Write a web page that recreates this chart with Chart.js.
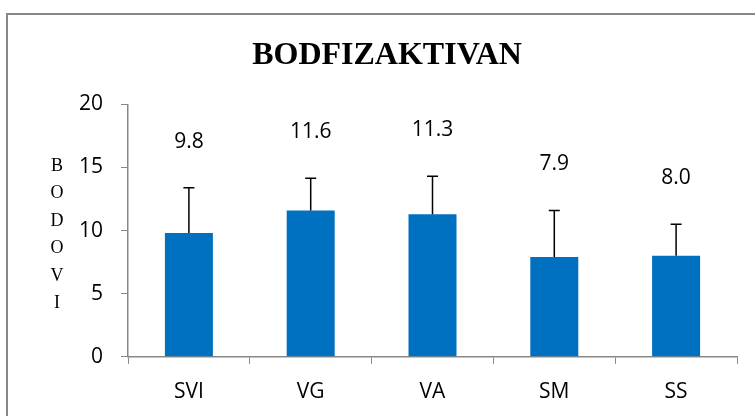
<!DOCTYPE html>
<html>
<head>
<meta charset="utf-8">
<script src="https://cdn.jsdelivr.net/npm/chart.js@4"></script>
<style>
  html, body { margin: 0; padding: 0; background: #fff; overflow: hidden; width: 755px; height: 416px; }
  #frame { position: absolute; left: 6px; top: 13px; width: 758px; height: 433px; border: 2px solid #878787; }
  #wrap { position: relative; width: 758px; height: 423px; }
</style>
</head>
<body>
<div id="frame"><div id="wrap"><canvas id="chart"></canvas></div></div>
<script>
// data
const categories = ['SVI', 'VG', 'VA', 'SM', 'SS'];
const means = [9.8, 11.6, 11.3, 7.9, 8.0];
const sds = [3.6, 2.55, 3.0, 3.7, 2.5];
const yTicks = [0, 5, 10, 15, 20];
const axisTitle = ['B', 'O', 'D', 'O', 'V', 'I'];

const labelFont = '"Open Sans"';

// error bars (upper only) + value labels
const errorBars = {
    id: 'errorBars',
    afterDatasetsDraw(chart) {
        const ctx = chart.ctx;
        const meta = chart.getDatasetMeta(0);
        const y = chart.scales.y;
        ctx.save();
        meta.data.forEach((bar, i) => {
            const top = y.getPixelForValue(means[i] + sds[i]);
            ctx.strokeStyle = '#000';
            ctx.lineWidth = 1.5;
            ctx.beginPath();
            ctx.moveTo(bar.x, bar.y);
            ctx.lineTo(bar.x, top);
            ctx.moveTo(bar.x - 5.5, top);
            ctx.lineTo(bar.x + 5.5, top);
            ctx.stroke();

            ctx.fillStyle = '#000';
            ctx.font = '21px ' + labelFont;
            ctx.textAlign = 'center';
            ctx.textBaseline = 'middle';
            ctx.fillText(means[i].toFixed(1), bar.x, top - 46);
        });
        ctx.restore();
    }
};

// stacked letters for the y axis title
const stackedTitle = {
    id: 'stackedTitle',
    afterDraw(chart) {
        const ctx = chart.ctx;
        const area = chart.chartArea;
        const step = 27.5;
        const cx = area.left - 71;
        const cy = (area.top + area.bottom) / 2 + 4;
        ctx.save();
        ctx.fillStyle = '#000';
        ctx.font = '18px "Liberation Serif"';
        ctx.textAlign = 'center';
        ctx.textBaseline = 'middle';
        axisTitle.forEach((ch, i) => {
            ctx.fillText(ch, cx, cy + (i - (axisTitle.length - 1) / 2) * step);
        });
        ctx.restore();
    }
};

new Chart(document.getElementById('chart'), {
    type: 'bar',
    data: {
        labels: categories,
        datasets: [{
            data: means,
            backgroundColor: '#0070C0',
            borderWidth: 0,
            barPercentage: 0.394,
            categoryPercentage: 1
        }]
    },
    options: {
        responsive: true,
        maintainAspectRatio: false,
        animation: false,
        layout: { padding: { left: 29, right: 29, top: 0, bottom: 17 } },
        plugins: {
            legend: { display: false },
            tooltip: { enabled: false },
            title: {
                display: true,
                text: 'BODFIZAKTIVAN',
                color: '#000',
                font: { family: '"Liberation Serif"', size: 32, weight: 'bold' },
                padding: { top: 22, bottom: 29 }
            }
        },
        scales: {
            x: {
                grid: { display: true, drawOnChartArea: false, drawTicks: true, tickLength: 7, color: '#888', offset: true },
                border: { color: '#888', width: 1.5 },
                ticks: { color: '#000', padding: 16, font: { family: labelFont, size: 21 } }
            },
            y: {
                min: 0,
                max: 20,
                afterFit(scale) { scale.width = 91; },
                afterBuildTicks(scale) { scale.ticks = yTicks.map(v => ({ value: v })); },
                grid: { display: true, drawOnChartArea: false, drawTicks: true, tickLength: 7, color: '#888' },
                border: { color: '#888', width: 1.5 },
                ticks: { color: '#000', padding: 18, font: { family: labelFont, size: 21 } }
            }
        }
    },
    plugins: [errorBars, stackedTitle]
});
</script>
</body>
</html>
